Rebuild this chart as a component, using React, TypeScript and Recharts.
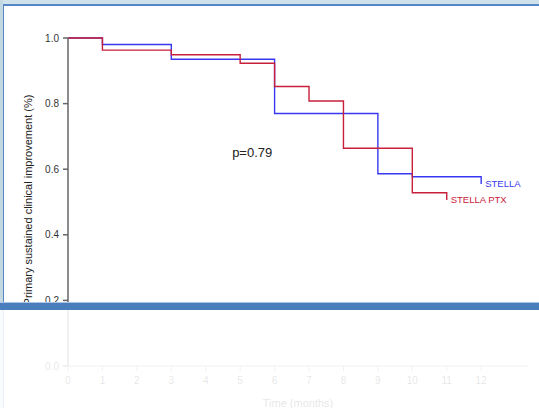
import { LineChart, Line, XAxis, YAxis, ReferenceDot } from "recharts";

// Kaplan-Meier style step data (time in months, proportion)
const STELLA_TIME = [0, 1, 3, 6, 9, 10, 12, 12];
const STELLA_VALUE = [1.0, 0.98, 0.935, 0.77, 0.586, 0.577, 0.577, 0.555];

const PTX_TIME = [0, 1, 3, 5, 6, 7, 8, 10, 11, 11];
const PTX_VALUE = [1.0, 0.963, 0.949, 0.923, 0.852, 0.808, 0.664, 0.528, 0.528, 0.506];

const X_TICKS = [0, 1, 2, 3, 4, 5, 6, 7, 8, 9, 10, 11, 12];
const Y_TICKS = [0, 0.2, 0.4, 0.6, 0.8, 1.0];

const stella = STELLA_TIME.map((t, i) => ({ t, v: STELLA_VALUE[i] }));
const ptx = PTX_TIME.map((t, i) => ({ t, v: PTX_VALUE[i] }));

const BLUE = "#3838f0";
const RED = "#c8203a";
const font = "Arial, 'Liberation Sans', sans-serif";

export default function App() {
  return (
    <div
      style={{
        position: "absolute",
        left: 0,
        top: 0,
        width: 539,
        height: 408,
        background: "#fff",
        overflow: "hidden",
        fontFamily: font,
      }}
    >
      {/* window frame */}
      <div style={{ position: "absolute", left: 0, top: 0, width: 539, height: 4, background: "#cfe1ea" }} />
      <div style={{ position: "absolute", left: 0, top: 0, width: 3, height: 408, background: "#c4d8e2" }} />
      <div style={{ position: "absolute", left: 3, top: 4, width: 536, height: 2, background: "#5587c4" }} />
      <div style={{ position: "absolute", left: 3, top: 4, width: 1, height: 404, background: "#5587c4" }} />

      <div style={{ position: "absolute", left: 0, top: 0 }}>
        <LineChart
          width={539}
          height={408}
          margin={{ top: 38, right: 11, bottom: 0, left: 0 }}
        >
          <XAxis
            dataKey="t"
            type="number"
            domain={[0, 13.36]}
            ticks={X_TICKS}
            allowDuplicatedCategory={false}
            height={42}
            tickSize={5}
            tickMargin={6}
            stroke="#888"
            tick={{ fontSize: 10, fill: "#333", fontFamily: font }}
            label={{
              value: "Time (months)",
              position: "insideBottom",
              offset: 1,
              style: { fontSize: 11, fill: "#333", fontFamily: font },
            }}
          />
          <YAxis
            dataKey="v"
            type="number"
            domain={[0, 1]}
            ticks={Y_TICKS}
            width={68}
            tickSize={5}
            tickMargin={4}
            stroke="#666"
            strokeWidth={1.5}
            tickFormatter={(v: number) => v.toFixed(1)}
            tick={{ fontSize: 10, fill: "#333", fontFamily: font }}
            label={{
              content: () => (
                <text
                  x={27.5}
                  y={200}
                  transform="rotate(-90 27.5 200)"
                  textAnchor="middle"
                  dominantBaseline="central"
                  fontSize={11}
                  fill="#222"
                  fontFamily={font}
                >
                  Primary sustained clinical improvement (%)
                </text>
              ),
            }}
          />
          <Line
            data={stella}
            dataKey="v"
            type="stepAfter"
            stroke={BLUE}
            strokeWidth={1.4}
            dot={false}
            isAnimationActive={false}
          />
          <Line
            data={ptx}
            dataKey="v"
            type="stepAfter"
            stroke={RED}
            strokeWidth={1.4}
            dot={false}
            isAnimationActive={false}
          />
          <ReferenceDot
            x={12}
            y={0.555}
            r={0}
            stroke="none"
            fill="none"
            label={{ value: "STELLA", position: "right", offset: 4, fontSize: 9.5, fill: BLUE, fontFamily: font }}
          />
          <ReferenceDot
            x={11}
            y={0.506}
            r={0}
            stroke="none"
            fill="none"
            label={{ value: "STELLA PTX", position: "right", offset: 4, fontSize: 9.5, fill: RED, fontFamily: font }}
          />
          <ReferenceDot
            x={5.35}
            y={0.652}
            r={0}
            stroke="none"
            fill="none"
            label={{ value: "p=0.79", position: "center", fontSize: 13, fill: "#222", fontFamily: font }}
          />
        </LineChart>
      </div>

      {/* fade + blue bar across lower part */}
      <div
        style={{
          position: "absolute",
          left: 0,
          top: 310,
          width: 539,
          height: 98,
          background: "rgba(255,255,255,0.88)",
        }}
      />
      <div style={{ position: "absolute", left: 0, top: 302, width: 539, height: 1, background: "#a9c4e4" }} />
      <div style={{ position: "absolute", left: 0, top: 303, width: 539, height: 7, background: "#4a7dbb" }} />
    </div>
  );
}
